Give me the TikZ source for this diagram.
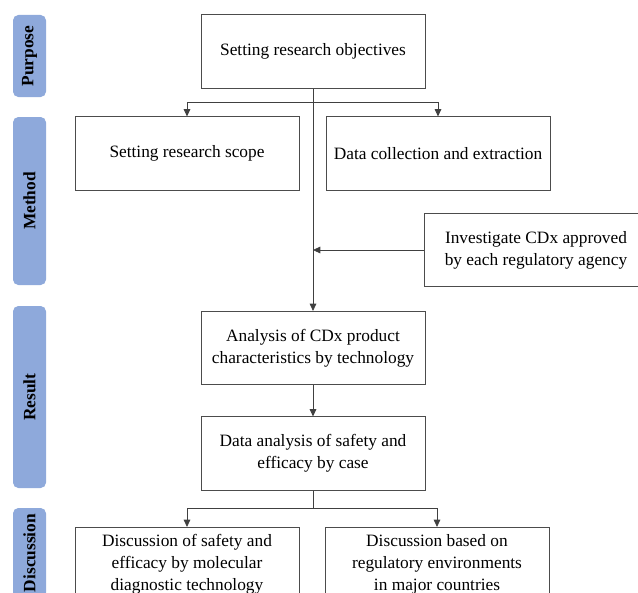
\documentclass[tikz,border=0pt]{standalone}
\usepackage{fontspec}
\setmainfont{Liberation Serif}
\usetikzlibrary{arrows.meta}
\definecolor{stageblue}{RGB}{142,169,219}

\begin{document}
\begin{tikzpicture}[x=0.75pt,y=-0.75pt,
    font=\fontsize{13}{16.5}\selectfont,
    >={Triangle[length=5.5pt,width=5pt]},
    box/.style={draw=black!70,line width=0.6pt,minimum width=168pt,
        minimum height=55pt,align=center,inner sep=2pt},
    stage/.style={fill=stageblue,rounded corners=4pt,minimum height=24.75pt,
        rotate=90,font=\fontsize{13}{14}\selectfont\bfseries},
    link/.style={draw=black!75,line width=0.6pt}]
    \useasboundingbox (0,0) rectangle (638,592);
    \clip (0,0) rectangle (638,592);

    % stages on the left
    \node[stage,minimum width=61.5pt] (purpose) at (29.5,56) {Purpose};
    \node[stage,minimum width=126pt] (method) at (29.5,201) {Method};
    \node[stage,minimum width=136.5pt] (result) at (29.5,397) {Result};
    \node[stage,minimum width=67.5pt] (discuss) at (29.5,553) {Discussion};

    % boxes
    \node[box] (obj) at (313,51.5) {Setting research objectives};
    \node[box] (scope) at (187,153.5) {Setting research scope};
    \node[box] (collect) at (438,153.5) {Data collection and extraction};
    \node[box] (invest) at (536,250) {Investigate CDx approved\\by each regulatory agency};
    \node[box] (analysis) at (313,348) {Analysis of CDx product\\characteristics by technology};
    \node[box] (dataan) at (313,453.5) {Data analysis of safety and\\efficacy by case};
    \node[box] (molec) at (187,564) {Discussion of safety and\\efficacy by molecular\\diagnostic technology};
    \node[box] (regul) at (437,564) {Discussion based on\\regulatory environments\\in major countries};

    \coordinate (forkA) at (313,102);
    \coordinate (forkB) at (313,508);

    % connectors
    \draw[link,->] (obj.south) -- (analysis.north);
    \draw[link,->] (forkA) -| (scope.north);
    \draw[link,->] (forkA) -| (collect.north);
    \draw[link,->] (invest.west) -- (invest.west -| obj.south);
    \draw[link,->] (analysis) -- (dataan);
    \draw[link] (dataan.south) -- (forkB);
    \draw[link,->] (forkB) -| (molec.north);
    \draw[link,->] (forkB) -| (regul.north);
\end{tikzpicture}
\end{document}
